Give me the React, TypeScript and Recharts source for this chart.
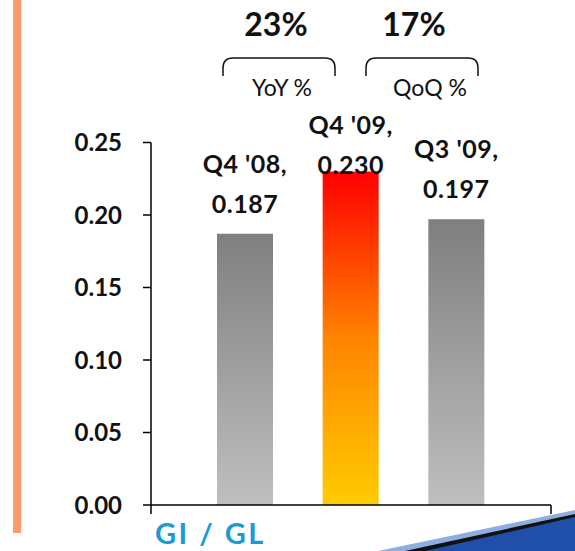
import React from "react"
import { BarChart, Bar, XAxis, YAxis, Cell, LabelList } from "recharts"

const quarters = ["Q4 '08", "Q4 '09", "Q3 '09"]
const giGl = [0.187, 0.23, 0.197]
const barFills = ["url(#grayBar)", "url(#hotBar)", "url(#grayBar)"]
const yTicks = [0, 0.05, 0.1, 0.15, 0.2, 0.25]
const changeValues = ["23%", "17%"]
const changeLabels = ["YoY %", "QoQ %"]

const data = quarters.map((q, i) => ({ name: q, value: giGl[i] }))

const FONT = "Lato, 'Open Sans', sans-serif"

const BarLabel = (props: any) => {
  const { x, y, width, value, index } = props
  const cx = x + width / 2
  // keep the first line from running into the percent brackets
  const first = Math.max(y - 61, 134)
  return (
    <g>
      <text x={cx} y={first} textAnchor="middle" fontFamily={FONT} fontWeight={700} fontSize={25} fill="#111" letterSpacing={0.5}>
        {quarters[index]},
      </text>
      <text x={cx} y={first + 40} textAnchor="middle" fontFamily={FONT} fontWeight={700} fontSize={25} fill="#111" letterSpacing={0.5}>
        {Number(value).toFixed(3)}
      </text>
    </g>
  )
}

const Overlay = () => (
  <svg width={575} height={551} style={{ position: "absolute", left: 0, top: 0, pointerEvents: "none" }}>
    <rect x={13} y={0} width={8} height={533} fill="#FF9B68" />
    {/* axis end ticks */}
    <line x1={151} y1={505} x2={151} y2={514} stroke="#000" strokeWidth={1.5} />
    <line x1={551} y1={505} x2={551} y2={514} stroke="#000" strokeWidth={1.5} />
    {/* change brackets */}
    <path d="M223 76 L223 68 Q223 58 233 58 L325 58 Q335 58 335 68 L335 76" fill="none" stroke="#111" strokeWidth={1.5} />
    <path d="M366 76 L366 68 Q366 58 376 58 L468 58 Q478 58 478 68 L478 76" fill="none" stroke="#111" strokeWidth={1.5} />
    <text x={276} y={36} textAnchor="middle" fontFamily={FONT} fontWeight={700} fontSize={32} fill="#111">{changeValues[0]}</text>
    <text x={414} y={36} textAnchor="middle" fontFamily={FONT} fontWeight={700} fontSize={32} fill="#111">{changeValues[1]}</text>
    <text x={282} y={96} textAnchor="middle" fontFamily={FONT} fontSize={23} fill="#111">{changeLabels[0]}</text>
    <text x={430} y={96} textAnchor="middle" fontFamily={FONT} fontSize={23} fill="#111">{changeLabels[1]}</text>
    <text x={155} y={544} fontFamily={FONT} fontWeight={700} fontSize={29} fill="#1A9AD6" letterSpacing={2.5}>GI / GL</text>
    {/* swoosh */}
    <polygon points="378,551 575,510 575,551" fill="#8FAEE0" />
    <polygon points="405,551 575,514 575,551" fill="#111" />
    <polygon points="425,551 575,517 575,551" fill="#1F4FA8" />
  </svg>
)

export default function App() {
  return (
    <div style={{ position: "absolute", left: 0, top: 0, width: 575, height: 551, background: "#fff" }}>
      <BarChart width={575} height={551} data={data} margin={{ top: 142.5, right: 24, bottom: 0, left: 0 }}>
        <defs>
          <linearGradient id="grayBar" x1="0" y1="0" x2="0" y2="1">
            <stop offset="0%" stopColor="#7f7f7f" />
            <stop offset="100%" stopColor="#bfbfbf" />
          </linearGradient>
          <linearGradient id="hotBar" x1="0" y1="0" x2="0" y2="1">
            <stop offset="0%" stopColor="#ff0000" />
            <stop offset="50%" stopColor="#ff8400" />
            <stop offset="100%" stopColor="#ffcc00" />
          </linearGradient>
        </defs>
        <XAxis
          dataKey="name"
          height={46}
          tick={false}
          tickLine={false}
          axisLine={{ stroke: "#000", strokeWidth: 1.5 }}
          padding={{ left: 41, right: 42 }}
        />
        <YAxis
          width={151}
          domain={[0, 0.25]}
          ticks={yTicks}
          tickFormatter={(v: number) => v.toFixed(2)}
          tickSize={8}
          tickMargin={21}
          tickLine={{ stroke: "#000", strokeWidth: 1.5 }}
          axisLine={{ stroke: "#000", strokeWidth: 1.5 }}
          tick={{ fontFamily: FONT, fontWeight: 700, fontSize: 24, fill: "#111" }}
        />
        <Bar dataKey="value" barSize={56} isAnimationActive={false}>
          {data.map((d, i) => (
            <Cell key={d.name} fill={barFills[i]} />
          ))}
          <LabelList dataKey="value" content={BarLabel} />
        </Bar>
      </BarChart>
      <Overlay />
    </div>
  )
}
